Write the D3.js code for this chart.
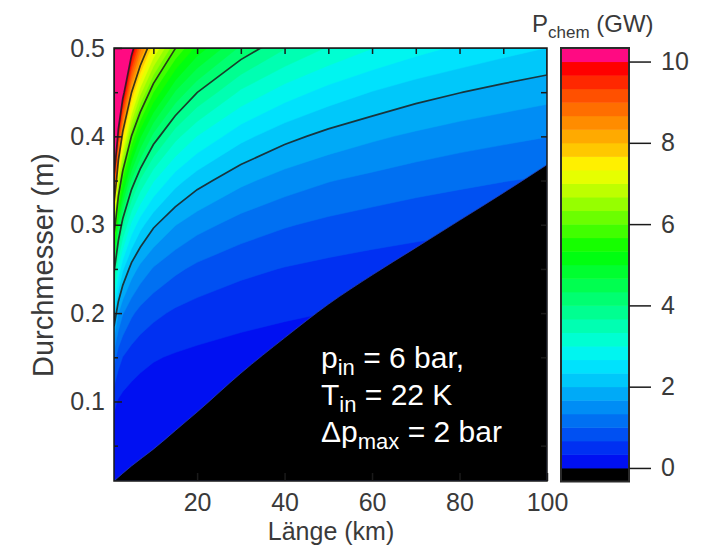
<!DOCTYPE html>
<html>
<head>
<meta charset="utf-8">
<script src="https://cdn.jsdelivr.net/npm/d3@7"></script>
<style>
  body { margin: 0; background: #fff; }
  text { font-family: "Liberation Sans", Arial, sans-serif; }
</style>
</head>
<body>
<div id="chart"></div>
<script>
// grid: pipe length (km) and diameter (m)
const lengths = [1, 2, 3, 5, 7, 10, 15, 20, 30, 40, 50, 60, 70, 80, 90, 100];
const diameters = [0.01, 0.05, 0.1, 0.15, 0.2, 0.25, 0.3, 0.35, 0.4, 0.45, 0.5];
// P_chem in GW, one row per diameter, one column per length
const pChem = [
  [0.00, 0.00, 0.00, 0.00, 0.00, 0.00, 0.00, 0.00, 0.00, 0.00, 0.00, 0.00, 0.00, 0.00, 0.00, 0.00],
  [0.07, 0.05, 0.04, 0.03, 0.03, 0.02, 0.02, 0.02, 0.01, 0.01, 0.01, 0.01, 0.01, 0.01, 0.01, 0.01],
  [0.42, 0.30, 0.24, 0.19, 0.16, 0.13, 0.11, 0.09, 0.08, 0.07, 0.06, 0.05, 0.05, 0.05, 0.04, 0.04],
  [1.15, 0.81, 0.66, 0.51, 0.43, 0.36, 0.30, 0.26, 0.21, 0.18, 0.16, 0.15, 0.14, 0.13, 0.12, 0.12],
  [2.36, 1.67, 1.36, 1.06, 0.89, 0.75, 0.61, 0.53, 0.43, 0.37, 0.33, 0.30, 0.28, 0.26, 0.25, 0.24],
  [4.13, 2.92, 2.38, 1.85, 1.56, 1.30, 1.07, 0.92, 0.75, 0.65, 0.58, 0.53, 0.49, 0.46, 0.44, 0.41],
  [6.51, 4.60, 3.76, 2.91, 2.46, 2.06, 1.68, 1.46, 1.19, 1.03, 0.92, 0.84, 0.78, 0.73, 0.69, 0.65],
  [9.57, 6.76, 5.52, 4.28, 3.62, 3.03, 2.47, 2.14, 1.75, 1.51, 1.35, 1.24, 1.14, 1.07, 1.01, 0.96],
  [13.4, 9.45, 7.71, 5.98, 5.05, 4.22, 3.45, 2.99, 2.44, 2.11, 1.89, 1.73, 1.60, 1.49, 1.41, 1.34],
  [17.9, 12.7, 10.4, 8.02, 6.78, 5.67, 4.63, 4.01, 3.27, 2.84, 2.54, 2.32, 2.14, 2.01, 1.89, 1.79],
  [23.3, 16.5, 13.5, 10.4, 8.82, 7.38, 6.02, 5.22, 4.26, 3.69, 3.30, 3.01, 2.79, 2.61, 2.46, 2.33]
];
// border of the black region (no valid solution)
const edgeLength = [1, 5, 10, 15, 20, 30, 40, 50, 60, 70, 80, 90, 100];
const edgeDiameter = [0.01, 0.027, 0.046, 0.067, 0.088, 0.132, 0.172, 0.21, 0.243, 0.274, 0.305, 0.336, 0.368];

const lineLevels = [2, 4, 6, 8, 10];
const barTicks = [0, 2, 4, 6, 8, 10];
const xTicks = [20, 40, 60, 80, 100];
const yTicks = [0.1, 0.2, 0.3, 0.4, 0.5];

const W = 718, H = 546;
const plotLeft = 114, plotRight = 547, plotTop = 48, plotBottom = 481;
const step = 1 / 3;
const levels = d3.range(31).map(i => i * step); // 0 .. 10

// rainbow palette (styling)
const rainbow = d3.scaleLinear()
  .domain([0.17, 1.17, 2.17, 2.67, 3.17, 4.5, 5.33, 6.5, 7.17, 7.5, 7.83, 9.17, 9.83])
  .range(["#0010f2", "#0070f2", "#00c8fa", "#00f0ff", "#00ffd2", "#00ff50", "#00ff00",
          "#96ff00", "#e6ff00", "#fff000", "#ffc800", "#ff5000", "#ff0000"])
  .clamp(true);
const bandColor = v => v >= 10 - 1e-6 ? "#ff0a82" : rainbow(v + step / 2);

const svg = d3.select('#chart').append('svg')
  .attr('width', W).attr('height', H)
  .style('background', '#fff');

const x = d3.scaleLinear().domain([1, 100]).range([plotLeft, plotRight]);
const y = d3.scaleLinear().domain([0.01, 0.5]).range([plotBottom, plotTop]);

svg.append('clipPath').attr('id', 'plot-clip')
  .append('rect').attr('x', plotLeft).attr('y', plotTop)
  .attr('width', plotRight - plotLeft).attr('height', plotBottom - plotTop);

// grid coords from d3.contours -> data -> pixels
const col = d3.scaleLinear().domain(d3.range(lengths.length)).range(lengths).clamp(true);
const row = d3.scaleLinear().domain(d3.range(diameters.length)).range(diameters).clamp(true);
const toScreen = d3.geoTransform({
  point: function (gx, gy) {
    this.stream.point(x(col(gx - 0.5)), y(row(gy - 0.5)));
  }
});
const path = d3.geoPath(toScreen);

const values = pChem.flat();
const n = lengths.length, m = diameters.length;

const plot = svg.append('g').attr('clip-path', 'url(#plot-clip)');

plot.selectAll('path.band')
  .data(d3.contours().size([n, m]).thresholds(levels)(values))
  .join('path')
  .attr('class', 'band')
  .attr('d', path)
  .attr('fill', d => bandColor(d.value))
  .attr('stroke', d => bandColor(d.value))
  .attr('stroke-width', 0.5);

plot.selectAll('path.iso')
  .data(d3.contours().size([n, m]).thresholds(lineLevels)(values))
  .join('path')
  .attr('class', 'iso')
  .attr('d', path)
  .attr('fill', 'none')
  .attr('stroke', '#1c1c1c')
  .attr('stroke-opacity', 0.85)
  .attr('stroke-width', 1.7);

// black region below the edge
const edge = edgeLength.map((L, i) => ({ L: L, D: edgeDiameter[i] }));
plot.append('path')
  .datum(edge)
  .attr('d', d3.area()
    .x(d => x(d.L))
    .y0(y(0.01))
    .y1(d => y(d.D))
    .curve(d3.curveMonotoneX))
  .attr('fill', '#000')
  .attr('stroke', '#2a3fb0')
  .attr('stroke-width', 0.8);

// frame
svg.append('rect')
  .attr('x', plotLeft).attr('y', plotTop)
  .attr('width', plotRight - plotLeft).attr('height', plotBottom - plotTop)
  .attr('fill', 'none').attr('stroke', '#1a1a1a').attr('stroke-width', 1.5);

const labelColor = '#3a3a3a';
function styleAxis(g) {
  g.select('.domain').remove();
  g.selectAll('.tick line').attr('stroke', '#1a1a1a').attr('stroke-width', 1.5);
  g.selectAll('.tick text').attr('fill', labelColor).style('font-size', '25px');
}

svg.append('g')
  .attr('transform', `translate(0,${plotBottom})`)
  .call(d3.axisBottom(x).tickValues(xTicks).tickSize(-8).tickPadding(12))
  .call(styleAxis);

svg.append('g')
  .attr('transform', `translate(${plotLeft},0)`)
  .call(d3.axisLeft(y).tickValues(yTicks).tickFormat(d3.format('.1f')).tickSize(-8).tickPadding(9))
  .call(styleAxis);

svg.append('g')
  .attr('transform', `translate(${plotLeft},0)`)
  .call(d3.axisLeft(y).tickValues([0.05, 0.15, 0.25, 0.35, 0.45]).tickFormat('').tickSize(-4))
  .call(styleAxis);

svg.append('g')
  .attr('transform', `translate(0,${plotTop})`)
  .call(d3.axisTop(x).tickValues(d3.range(10, 100, 10)).tickFormat('').tickSize(-6))
  .call(styleAxis);

svg.append('g')
  .attr('transform', `translate(${plotRight},0)`)
  .call(d3.axisRight(y).tickValues([0.05, 0.15, 0.2, 0.25, 0.3, 0.35, 0.4, 0.45]).tickFormat('').tickSize(-6))
  .call(styleAxis);

// axis titles
svg.append('text')
  .attr('x', 331).attr('y', 540)
  .attr('text-anchor', 'middle')
  .attr('fill', labelColor)
  .style('font-size', '25px')
  .text('Länge (km)');

svg.append('text')
  .attr('transform', 'translate(53,265) rotate(-90)')
  .attr('text-anchor', 'middle')
  .attr('fill', labelColor)
  .style('font-size', '29px')
  .text('Durchmesser (m)');

// parameter note
const note = svg.append('text')
  .attr('fill', '#fff')
  .style('font-size', '30px');
const noteLines = [
  { main: 'p', sub: 'in', rest: ' = 6 bar,', yb: 368 },
  { main: 'T', sub: 'in', rest: ' = 22 K', yb: 405 },
  { main: '\u0394p', sub: 'max', rest: ' = 2 bar', yb: 442 }
];
noteLines.forEach(l => {
  note.append('tspan').attr('x', 321).attr('y', l.yb).text(l.main);
  note.append('tspan').attr('dy', 7).style('font-size', '22px').text(l.sub);
  note.append('tspan').attr('dy', -7).text(l.rest);
});

// colour bar
const barX0 = 561, barX1 = 629;
const bar = d3.scaleLinear().domain([-step, 10 + step]).range([481.5, 48]);
const barBands = [-step].concat(levels);
svg.append('g').selectAll('rect')
  .data(barBands)
  .join('rect')
  .attr('x', barX0)
  .attr('width', barX1 - barX0)
  .attr('y', d => bar(d + step))
  .attr('height', d => bar(d) - bar(d + step) + 0.5)
  .attr('fill', d => d < 0 ? '#000' : bandColor(d));

svg.append('rect')
  .attr('x', barX0).attr('y', bar(10 + step))
  .attr('width', barX1 - barX0).attr('height', bar(-step) - bar(10 + step))
  .attr('fill', 'none').attr('stroke', '#2a2a2a').attr('stroke-width', 2);

svg.append('g')
  .attr('transform', `translate(${barX1},0)`)
  .call(d3.axisRight(bar).tickValues(barTicks).tickSize(22).tickPadding(10))
  .call(styleAxis);

const title = svg.append('text')
  .attr('x', 532).attr('y', 32)
  .attr('fill', labelColor)
  .style('font-size', '24px');
title.append('tspan').text('P');
title.append('tspan').attr('dy', 6).style('font-size', '17px').text('chem');
title.append('tspan').attr('dy', -6).text(' (GW)');
</script>
</body>
</html>
